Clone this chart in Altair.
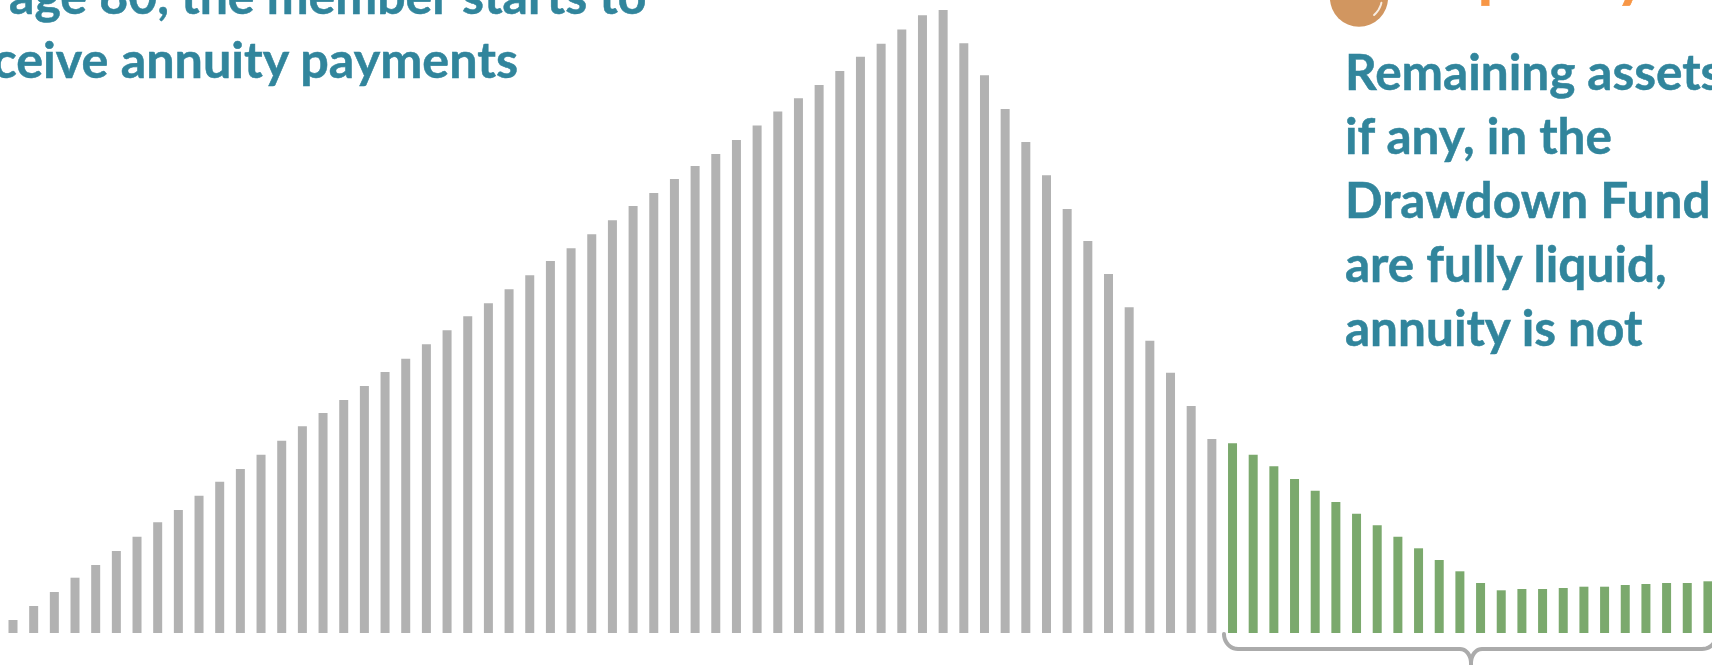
import math

import altair as alt
import pandas as pd

# Fund balance at each age, 21 up to 103, in chart units.
accumulation_ages = list(range(21, 80))
accumulation_values = [
    13, 27, 41, 55.3, 68, 82, 96.3, 110.7, 123, 137.3, 151.3, 164, 178.3, 192.3, 206.7,
    220, 233, 247, 261, 274.3, 288.7, 302.7, 316.7, 329.7, 343.7, 357.7, 372, 384.7, 398.7, 412.7,
    427, 440, 454, 467, 479, 493, 507.4, 521.6, 534.7, 548, 562, 576.2, 589.3, 603.5, 617.7, 623,
    589.7, 557.7, 524, 491, 457.7, 424, 392, 359, 325.7, 292.3, 260.3, 227, 194,
]
drawdown_ages = list(range(80, 104))
drawdown_values = [
    189.7, 178.3, 166.7, 154, 142.3, 131, 119.3, 107.7, 96.3, 84.7, 73, 61.7,
    50, 42.7, 44, 44, 45, 46.3, 46.3, 48, 49, 50, 50, 51.7,
]

# Annotation wording and where each block is anchored, in axis units.
annuity_lines = ["age 80, the member starts to", "receive annuity payments"]
liquid_lines = ["Remaining assets,", "if any, in the", "Drawdown Fund", "are fully liquid,", "annuity is not"]
heading_word = ["Liquidity"]

PAGE_W, PAGE_H = 1712, 665
AGE_MIN, AGE_MAX = 20.371, 103.197
VALUE_MIN, VALUE_MAX = -32, 633

age_scale = alt.Scale(domain=[AGE_MIN, AGE_MAX], range=[0, PAGE_W], nice=False, zero=False, padding=0)
value_scale = alt.Scale(domain=[VALUE_MIN, VALUE_MAX], range=[PAGE_H, 0], nice=False, zero=False)
x_enc = alt.X("age:Q", scale=age_scale, axis=None)
y_enc = alt.Y("value:Q", scale=value_scale, axis=None)
y0_enc = alt.Y2("base:Q")

TEAL = "#31859C"
FONT = "Lato"


def age_at(px):
    return AGE_MIN + px / PAGE_W * (AGE_MAX - AGE_MIN)


def value_at(py):
    return VALUE_MAX - py / PAGE_H * (VALUE_MAX - VALUE_MIN)


def bars(ages, values, colour):
    frame = pd.DataFrame({"age": ages, "value": values, "base": [0] * len(ages)})
    return alt.Chart(frame).mark_bar(size=9, color=colour).encode(x=x_enc, y=y_enc, y2=y0_enc)


def text_block(lines, left_px, first_baseline_py, step_py, colour, size, align="left"):
    frame = pd.DataFrame(
        {
            "age": [age_at(left_px)] * len(lines),
            "value": [value_at(first_baseline_py + i * step_py) for i in range(len(lines))],
            "line": lines,
        }
    )
    return (
        alt.Chart(frame)
        .mark_text(
            font=FONT,
            fontWeight="bold",
            fontSize=size,
            color=colour,
            stroke=colour,
            strokeWidth=0.5,
            align=align,
            baseline="alphabetic",
        )
        .encode(x=x_enc, y=y_enc, text="line:N")
    )


def quarter(cx, cy, rx, ry, start_deg, end_deg, steps=10):
    pts = []
    for i in range(steps + 1):
        a = math.radians(start_deg + (end_deg - start_deg) * i / steps)
        pts.append((cx + rx * math.cos(a), cy + ry * math.sin(a)))
    return pts


def path_layer(points, colour, width):
    frame = pd.DataFrame(
        {
            "age": [age_at(p[0]) for p in points],
            "value": [value_at(p[1]) for p in points],
            "order": list(range(len(points))),
        }
    )
    return (
        alt.Chart(frame)
        .mark_line(color=colour, strokeWidth=width, strokeCap="round", clip=False)
        .encode(x=x_enc, y=y_enc, order="order:O")
    )


# Curly brace under the drawdown bars, opening upward.
BRACE_Y, TIP_X = 649, 1471
brace_left = (
    quarter(1238, 634, 14, 15, 180, 90)
    + quarter(TIP_X - 11, BRACE_Y + 14, 11, 14, -90, 0)
    + [(TIP_X, 670)]
)
brace_right = quarter(TIP_X + 11, BRACE_Y + 14, 11, 14, 180, 270) + quarter(1702, 636, 14, 13, 90, 0)

# Coin icon with its glint, partly above the top edge.
COIN_X, COIN_Y, COIN_R = 1359, -2.4, 29.1
coin_frame = pd.DataFrame({"age": [age_at(COIN_X)], "value": [value_at(COIN_Y)]})
coin = (
    alt.Chart(coin_frame)
    .mark_point(shape="circle", filled=True, size=(2 * COIN_R) ** 2, color="#D19660", opacity=1)
    .encode(x=x_enc, y=y_enc)
)
glint = path_layer(quarter(COIN_X, COIN_Y, 23, 23, 13, 49, steps=6), "#F8EDE2", 2)

chart = (
    alt.layer(
        bars(accumulation_ages, accumulation_values, "#B2B2B2"),
        bars(drawdown_ages, drawdown_values, "#7BA96D"),
        path_layer(brace_left, "#ABABAB", 4),
        path_layer(brace_right, "#ABABAB", 4),
        text_block(annuity_lines[:1], 9, 14, 64, TEAL, 50),
        text_block(annuity_lines[1:], 518, 78, 64, TEAL, 50.3, align="right"),
        text_block(liquid_lines, 1345, 90, 64, TEAL, 49.5),
        coin,
        glint,
        text_block(heading_word, 1411, -4, 64, "#F79646", 61),
    )
    .properties(
        width=PAGE_W,
        height=PAGE_H,
        autosize=alt.AutoSizeParams(type="none"),
        padding=0,
        background="white",
    )
    .configure_view(strokeWidth=0)
)

chart.save("out.html", embed_options={"renderer": "svg", "actions": False})
